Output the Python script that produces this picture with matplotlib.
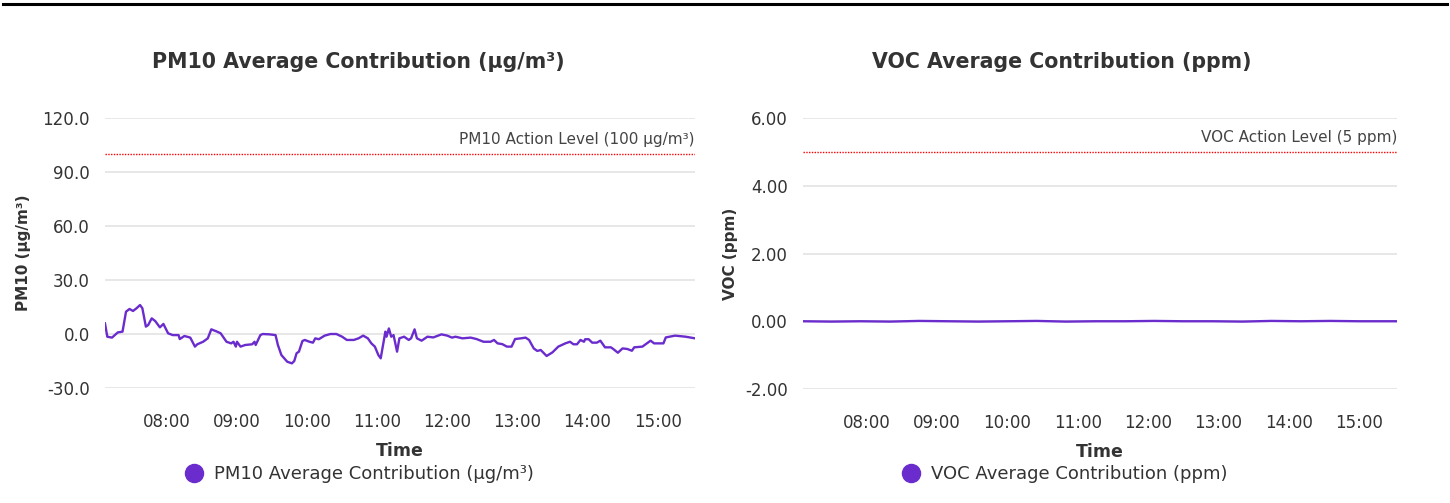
import pandas as pd
import matplotlib.pyplot as plt
import matplotlib.dates as mdates
from matplotlib.lines import Line2D

# PM10 readings (time, ug/m3)
PM10_Times = ["07:07", "07:09", "07:13", "07:18", "07:22", "07:25", "07:28", "07:31", "07:34", "07:37",
              "07:39", "07:42", "07:44", "07:47", "07:50", "07:54", "07:57", "08:01", "08:05", "08:10",
              "08:11", "08:15", "08:20", "08:24", "08:26", "08:31", "08:35", "08:38", "08:43", "08:46",
              "08:51", "08:55", "08:57", "08:59", "09:00", "09:03", "09:07", "09:13", "09:15", "09:16",
              "09:20", "09:22", "09:28", "09:33", "09:35", "09:38", "09:43", "09:47", "09:49", "09:51",
              "09:53", "09:56", "09:58", "10:02", "10:05", "10:07", "10:10", "10:15", "10:20", "10:25",
              "10:30", "10:34", "10:40", "10:44", "10:48", "10:52", "10:55", "10:58", "11:01", "11:03",
              "11:05", "11:07", "11:08", "11:10", "11:12", "11:14", "11:17", "11:19", "11:23", "11:27",
              "11:29", "11:32", "11:34", "11:38", "11:43", "11:48", "11:55", "12:00", "12:04", "12:07",
              "12:13", "12:20", "12:25", "12:31", "12:37", "12:40", "12:43", "12:47", "12:51", "12:55",
              "12:58", "13:03", "13:07", "13:10", "13:14", "13:17", "13:20", "13:25", "13:30", "13:35",
              "13:41", "13:45", "13:48", "13:51", "13:54", "13:57", "13:58", "14:01", "14:04", "14:08",
              "14:11", "14:15", "14:20", "14:22", "14:26", "14:30", "14:34", "14:38", "14:40", "14:47",
              "14:54", "14:57", "15:05", "15:07", "15:15", "15:24", "15:32"]
PM10_Values = [5.9, -1.5, -2.0, 0.9, 1.3, 12.4, 13.9, 12.8, 14.3, 16.1,
               14.3, 4.1, 5.0, 8.7, 7.2, 3.7, 5.6, 0.4, -0.6, -0.6,
               -2.8, -1.1, -2.0, -7.0, -5.7, -4.3, -2.4, 2.6, 1.3, 0.4,
               -4.3, -5.2, -4.3, -7.0, -4.3, -7.0, -6.1, -5.7, -4.3, -6.1,
               -0.6, 0.0, -0.2, -0.6, -6.1, -11.7, -15.4, -16.3, -15.0, -10.7,
               -9.8, -3.9, -3.3, -4.3, -4.8, -2.4, -2.9, -0.9, 0.0, 0.0,
               -1.5, -3.3, -3.3, -2.4, -0.9, -2.4, -5.2, -7.0, -11.7, -13.5,
               -6.1, 1.3, -1.5, 3.1, -1.5, -0.6, -9.8, -2.4, -1.5, -3.3,
               -2.4, 2.6, -2.4, -3.7, -1.5, -1.9, -0.2, -0.9, -2.0, -1.5,
               -2.4, -2.0, -2.8, -4.3, -4.3, -3.3, -5.2, -5.6, -7.0, -7.0,
               -2.8, -2.4, -2.0, -3.3, -8.0, -9.4, -8.9, -12.2, -10.2, -7.0,
               -5.2, -4.3, -5.7, -5.7, -3.3, -4.3, -2.9, -2.9, -4.8, -4.8,
               -3.7, -7.4, -7.4, -8.3, -10.4, -8.0, -8.3, -9.3, -7.4, -7.0,
               -3.7, -5.2, -5.2, -1.9, -0.9, -1.5, -2.4]

# VOC readings (time, ppm)
VOC_Times = ["07:06", "07:30", "07:55", "08:20", "08:45", "09:10", "09:35", "10:00", "10:25", "10:50",
             "11:15", "11:40", "12:05", "12:30", "12:55", "13:20", "13:45", "14:10", "14:35", "15:00",
             "15:32"]
VOC_Values = [0.00, -0.01, 0.00, -0.01, 0.01, 0.00, -0.01, 0.00, 0.01, -0.01,
              0.00, 0.00, 0.01, 0.00, 0.00, -0.01, 0.01, 0.00, 0.01, 0.00, 0.00]

PM10_Action = 100
VOC_Action = 5

PM10_Ticks = [-30, 0, 30, 60, 90, 120]
VOC_Ticks = [-2, 0, 2, 4, 6]

Purple = "#6a2ccc"
TextColor = "#333333"
GridColor = "#e3e3e3"


def to_dt(times):
    return pd.to_datetime(["2024-01-01 " + t for t in times])


fig = plt.figure(figsize=(14.5, 5.03), dpi=100)
fig.add_artist(Line2D([0.002, 0.998], [0.992, 0.992], transform=fig.transFigure, color="black", lw=2.2))

panels = [
    dict(rect=[0.0724, 0.2286, 0.4069, 0.5368], times=PM10_Times, values=PM10_Values,
         ticks=PM10_Ticks, fmt="{:.1f}", action=PM10_Action,
         action_label="PM10 Action Level (100 µg/m³)", ylabel="PM10 (µg/m³)",
         title="PM10 Average Contribution (µg/m³)", title_x=0.247,
         legend="PM10 Average Contribution (µg/m³)", legend_x=0.245, ylabelpad=8),
    dict(rect=[0.5538, 0.2266, 0.4097, 0.5388], times=VOC_Times, values=VOC_Values,
         ticks=VOC_Ticks, fmt="{:.2f}", action=VOC_Action,
         action_label="VOC Action Level (5 ppm)", ylabel="VOC (ppm)",
         title="VOC Average Contribution (ppm)", title_x=0.732,
         legend="VOC Average Contribution (ppm)", legend_x=0.731, ylabelpad=5),
]

for p in panels:
    ax = fig.add_axes(p["rect"])
    t = to_dt(p["times"])
    ax.plot(t, p["values"], color=Purple, lw=1.7)
    ax.axhline(p["action"], color="red", lw=1.0, linestyle=(0, (1, 1)))
    ax.text(t[-1], p["action"] + (p["ticks"][-1] - p["ticks"][0]) * 0.025, p["action_label"],
            ha="right", va="bottom", fontsize=11, color="#444444")

    ax.set_xlim(t[0], t[-1])
    ax.set_ylim(p["ticks"][0], p["ticks"][-1])
    ax.set_yticks(p["ticks"])
    ax.set_yticklabels([p["fmt"].format(v) for v in p["ticks"]])
    ax.xaxis.set_major_locator(mdates.HourLocator())
    ax.xaxis.set_major_formatter(mdates.DateFormatter("%H:%M"))

    ax.tick_params(axis="x", length=0, pad=18, labelsize=12, labelcolor=TextColor)
    ax.tick_params(axis="y", length=0, pad=11, labelsize=12, labelcolor=TextColor)
    for s in ax.spines.values():
        s.set_visible(False)
    ax.grid(axis="y", color=GridColor, lw=1.2)
    ax.set_axisbelow(True)

    ax.set_xlabel("Time", fontsize=12.5, fontweight="bold", color=TextColor, labelpad=8)
    ax.set_ylabel(p["ylabel"], fontsize=11, fontweight="bold", color=TextColor, labelpad=p["ylabelpad"])

    fig.text(p["title_x"], 0.877, p["title"], ha="center", va="center",
             fontsize=14.8, fontweight="bold", color=TextColor)

    handle = Line2D([], [], marker="o", linestyle="none", markersize=13,
                    markerfacecolor=Purple, markeredgecolor=Purple)
    fig.legend([handle], [p["legend"]], loc="center", bbox_to_anchor=(p["legend_x"], 0.057),
               frameon=False, fontsize=13, handletextpad=0.1, labelcolor=TextColor)

plt.savefig("out.png", dpi=100)
